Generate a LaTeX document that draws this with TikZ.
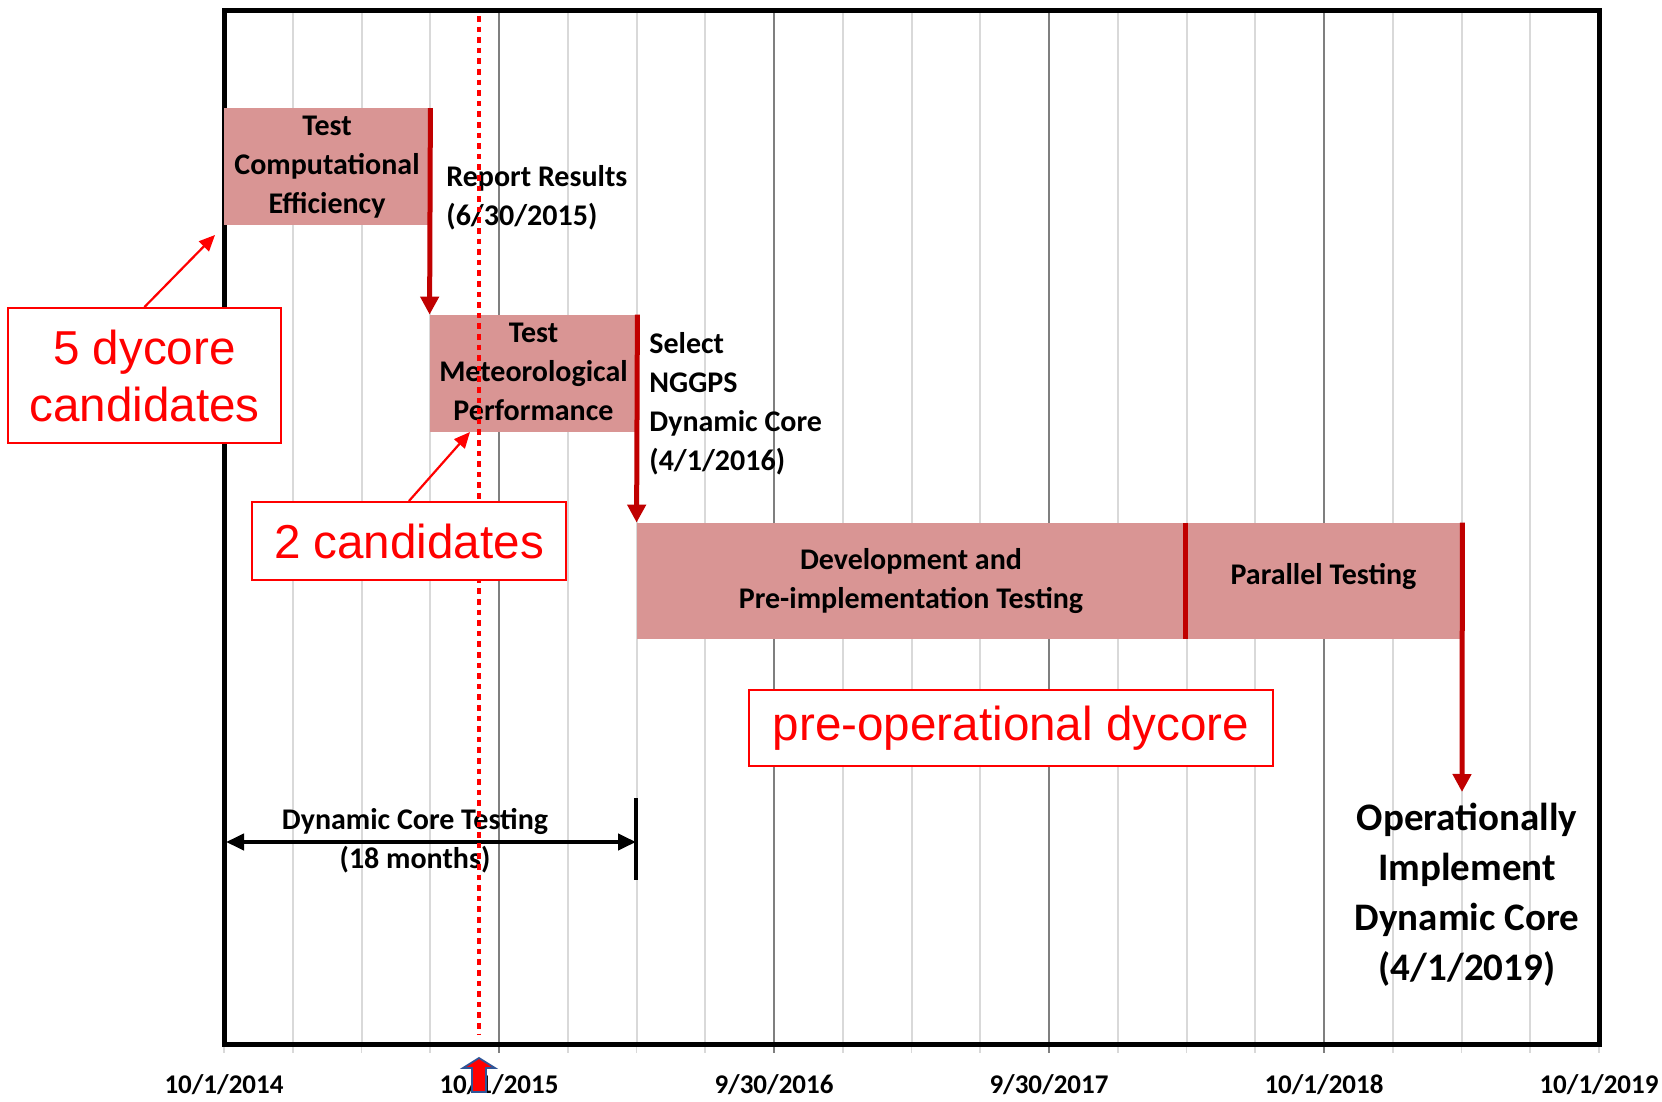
\documentclass[tikz,border=0pt]{standalone}
\usepackage{fontspec}
\setmainfont{Carlito}
\newfontfamily\arialf{Liberation Sans}
\usetikzlibrary{arrows.meta}
\definecolor{pinkbar}{HTML}{D99594}
\definecolor{darkred}{HTML}{C00000}
\definecolor{gridlight}{HTML}{D9D9D9}
\definecolor{griddark}{HTML}{7F7F7F}
\definecolor{bluearrow}{HTML}{2F5597}
\tikzset{
  bar/.style={fill=pinkbar, draw=none, inner sep=0pt, align=center, font=\fontsize{15}{19.5}\selectfont\bfseries},
  redarrow/.style={draw=darkred, line width=2.5pt, -{Triangle[length=9pt,width=9pt]}},
  redsep/.style={draw=darkred, line width=2.5pt},
  lbl/.style={inner sep=0pt, align=left, font=\fontsize{15}{19.5}\selectfont\bfseries},
  axlbl/.style={inner sep=0pt, font=\fontsize{13.5}{16}\selectfont\bfseries},
  annot/.style={draw=red, line width=1pt, fill=white, text=red, align=center, inner sep=0pt, font=\arialf\fontsize{23.8}{28.5}\selectfont},
  annarrow/.style={draw=red, line width=1.1pt, -{Triangle[length=8pt,width=7pt]}},
}
\begin{document}
\begin{tikzpicture}[x=0.5pt,y=-0.5pt]
\useasboundingbox (0,0) rectangle (1662,1102);
% grid lines
\foreach \k in {1,...,19}{
  \pgfmathsetmacro\xx{224+\k*68.75}
  \draw[gridlight, line width=1pt] (\xx,11) -- (\xx,1044);
  \draw[gridlight, line width=0.8pt] (\xx,1044) -- (\xx,1053);
}
\foreach \k in {4,8,12,16}{
  \pgfmathsetmacro\xx{224+\k*68.75}
  \draw[griddark, line width=1.1pt] (\xx,11) -- (\xx,1044);
  \draw[griddark, line width=0.8pt] (\xx,1044) -- (\xx,1053);
}
\draw[gridlight, line width=0.8pt] (224,1044) -- (224,1053);
\draw[gridlight, line width=0.8pt] (1599,1044) -- (1599,1053);
% frame
\draw[black, line width=2.5pt] (224,11) rectangle (1599,1044);
% bars
\node[bar, minimum width=103pt, minimum height=58pt] (b1) at (327,167) {\raisebox{1.5pt}{\begin{tabular}{@{}c@{}}Test\\Computational\\Efficiency\end{tabular}}};
\node[bar, minimum width=103.5pt, minimum height=57.5pt] (b2) at (533.5,373.5) {\raisebox{1.5pt}{\begin{tabular}{@{}c@{}}Test\\Meteorological\\Performance\end{tabular}}};
\node[bar, minimum width=274pt, minimum height=58pt] (b3) at (911,581) {\raisebox{1pt}{\begin{tabular}{@{}c@{}}Development and\\Pre-implementation Testing\end{tabular}}};
\node[bar, minimum width=138.5pt, minimum height=58pt] (b4) at (1323.5,581) {\raisebox{7pt}{Parallel Testing}};
% red connectors
\draw[redarrow] (b1.north east) -- (b2.north west);
\draw[redarrow] (b2.north east) -- (b3.north west);
\draw[redsep] (b3.north east) -- (b3.south east);
\coordinate (opTop) at (1462,792);
\draw[redarrow] (b4.north east) -- (opTop);
% labels
\node[lbl, anchor=west] (rr) at (446,197.5) {Report Results\\(6/30/2015)};
\node[lbl, anchor=west] (sel) at (649,404) {Select\\NGGPS\\Dynamic Core\\(4/1/2016)};
\node[inner sep=0pt, align=center, font=\fontsize{19.5}{25}\selectfont\bfseries] (op) at (1467,895) {Operationally\\Implement\\Dynamic Core\\(4/1/2019)};
% dynamic core testing
\node[lbl, align=center] (dct) at (415,841) {Dynamic Core Testing\\(18 months)};
\coordinate (dctL) at (226,842);
\coordinate (dctR) at (636,842);
\coordinate (barT) at (636,798);
\coordinate (barB) at (636,880);
\draw[black, line width=2pt, {Triangle[length=9pt,width=8pt]}-{Triangle[length=9pt,width=8pt]}] (dctL) -- (dctR);
\draw[black, line width=2pt] (barT) -- (barB);
% axis labels
\node[axlbl] (a1) at (224,1085) {10/1/2014};
\node[axlbl] (a2) at (499,1085) {10/1/2015};
\node[axlbl] (a3) at (774,1085) {9/30/2016};
\node[axlbl] (a4) at (1049,1085) {9/30/2017};
\node[axlbl] (a5) at (1324,1085) {10/1/2018};
\node[axlbl] (a6) at (1599,1085) {10/1/2019};
% dotted red line
\coordinate (dotT) at (479,16);
\coordinate (dotB) at (479,1035);
\draw[red, line width=2.3pt, dash pattern=on 2.8pt off 2.5pt] (dotT) -- (dotB);
% up block arrow
\draw[bluearrow, fill=red, line width=0.9pt, line join=miter]
  (479,1058) -- (495,1068) -- (486,1068) -- (486,1092) -- (472,1092) -- (472,1068) -- (463,1068) -- cycle;
% annotations
\node[annot, minimum width=136.5pt, minimum height=67.5pt] (c5) at (144.5,375.5) {5 dycore\\candidates};
\node[annot, minimum width=157pt, minimum height=39pt] (c2) at (409,541) {2 candidates};
\node[annot, minimum width=262pt, minimum height=38pt] (cp) at (1011,728) {pre-operational dycore};
\coordinate (t5) at (215,235);
\coordinate (t2) at (470,432);
\draw[annarrow] (c5.north) -- (t5);
\draw[annarrow] (c2.north) -- (t2);
\end{tikzpicture}
\end{document}
